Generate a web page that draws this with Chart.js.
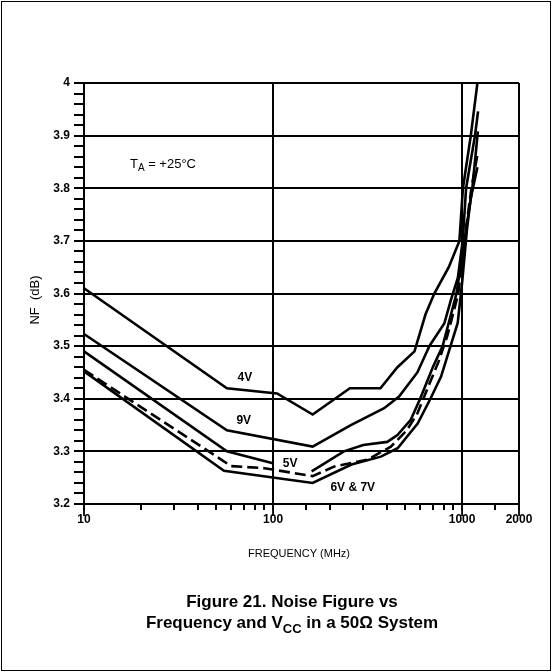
<!DOCTYPE html>
<html>
<head>
<meta charset="utf-8">
<script src="https://cdn.jsdelivr.net/npm/chart.js@4"></script>
<style>
  html, body { margin: 0; padding: 0; background: #fff; }
  #wrap { width: 552px; height: 672px; }
</style>
</head>
<body>
<div id="wrap"><canvas id="nfChart" width="552" height="672"></canvas></div>
<script>
// values (MHz, dB)
const F_4V  = [10, 57, 105, 162, 255, 370, 455, 560, 640, 713, 850, 968, 1010, 1112, 1205];
const NF_4V = [3.61, 3.42, 3.41, 3.37, 3.42, 3.42, 3.46, 3.49, 3.56, 3.60, 3.65, 3.70, 3.80, 3.90, 4.00];

const F_9V  = [10, 57, 162, 258, 387, 464, 580, 671, 805, 873, 950, 1007, 1050, 1170, 1215];
const NF_9V = [3.523, 3.34, 3.309, 3.35, 3.382, 3.404, 3.45, 3.50, 3.543, 3.588, 3.63, 3.70, 3.80, 3.90, 3.946];

const F_5V  = [10, 57, 101, 130, 160, 237, 300, 402, 455, 535, 600, 700, 789, 934, 1028, 1133, 1212];
const NF_5V = [3.49, 3.30, 3.277, null, 3.262, 3.30, 3.312, 3.318, 3.331, 3.36, 3.40, 3.46, 3.50, 3.60, 3.70, 3.80, 3.908];

const F_7V  = [10, 60, 90, 162, 210, 315, 420, 510, 580, 640, 750, 836, 955, 1028, 1120, 1208];
const NF_7V = [3.455, 3.272, 3.268, 3.253, 3.271, 3.284, 3.309, 3.34, 3.372, 3.41, 3.47, 3.52, 3.60, 3.70, 3.80, 3.866];

const F_6V  = [10, 55, 162, 260, 372, 456, 582, 680, 774, 948, 1000, 1060, 1110, 1205];
const NF_6V = [3.452, 3.263, 3.24, 3.275, 3.29, 3.306, 3.353, 3.40, 3.442, 3.544, 3.62, 3.72, 3.78, 3.84];

const X_LABELS = [10, 100, 1000, 2000];
const CURVE_LABELS = ['4V', '9V', '5V', '6V & 7V'];

const FONT = '"Liberation Sans", Arial, Helvetica, sans-serif';

function toPoints(xs, ys) {
    return xs.map((x, i) => ({ x, y: ys[i] }));
}

function curve(label, xs, ys, dash) {
    return {
        label,
        data: toPoints(xs, ys),
        borderColor: '#000',
        borderWidth: 2.6,
        borderDash: dash || [],
        pointRadius: 0,
        tension: 0,
        fill: false
    };
}

const isMajorY = v => Math.abs(v * 10 - Math.round(v * 10)) < 1e-6;
const isMajorX = v => X_LABELS.includes(Math.round(v));

// draws text made of normal / subscript parts
function drawParts(ctx, parts, x, y, size, weight, align) {
    const fontFor = p => `${weight} ${p.sub ? Math.round(size * 0.78) : size}px ${FONT}`;
    let total = 0;
    parts.forEach(p => { ctx.font = fontFor(p); total += ctx.measureText(p.t).width; });
    let cx = align === 'center' ? x - total / 2 : x;
    ctx.textAlign = 'left';
    ctx.textBaseline = 'alphabetic';
    parts.forEach(p => {
        ctx.font = fontFor(p);
        ctx.fillText(p.t, cx, p.sub ? y + size * 0.28 : y);
        cx += ctx.measureText(p.t).width;
    });
}

const textPlugin = {
    id: 'figureText',
    afterDraw(chart) {
        const { ctx, scales: { x, y } } = chart;
        ctx.save();
        ctx.fillStyle = '#000';

        // frame round the whole figure
        ctx.strokeStyle = '#000';
        ctx.lineWidth = 1;
        ctx.strokeRect(1.5, 1.5, chart.width - 3, chart.height - 3);

        // longer ticks under the labelled decades
        ctx.lineWidth = 1.8;
        X_LABELS.forEach(v => {
            const px = x.getPixelForValue(v);
            ctx.beginPath();
            ctx.moveTo(px, y.bottom);
            ctx.lineTo(px, y.bottom + 12);
            ctx.stroke();
        });

        // curve labels
        const spots = [[71, 3.44], [70, 3.358], [123, 3.277], [264, 3.231]];
        ctx.font = `bold 12px ${FONT}`;
        ctx.textAlign = 'center';
        ctx.textBaseline = 'middle';
        CURVE_LABELS.forEach((t, i) => {
            ctx.fillText(t, x.getPixelForValue(spots[i][0]), y.getPixelForValue(spots[i][1]));
        });

        // ambient temperature note
        drawParts(ctx, [{ t: 'T' }, { t: 'A', sub: true }, { t: ' = +25°C' }],
            x.getPixelForValue(17.5), y.getPixelForValue(3.839), 13, 'normal', 'left');

        // axis titles
        ctx.font = `normal 11px ${FONT}`;
        ctx.textAlign = 'center';
        ctx.textBaseline = 'middle';
        ctx.fillText('FREQUENCY (MHz)', 299, 554);
        ctx.save();
        ctx.translate(35, 300);
        ctx.rotate(-Math.PI / 2);
        ctx.font = `normal 13px ${FONT}`;
        ctx.fillText('NF  (dB)', 0, 0);
        ctx.restore();

        // caption
        ctx.font = `bold 17px ${FONT}`;
        ctx.textAlign = 'center';
        ctx.textBaseline = 'alphabetic';
        ctx.fillText('Figure 21. Noise Figure vs', 292, 607);
        drawParts(ctx, [{ t: 'Frequency and V' }, { t: 'CC', sub: true }, { t: ' in a 50Ω System' }],
            292, 628, 17, 'bold', 'center');

        ctx.restore();
    }
};

new Chart(document.getElementById('nfChart'), {
    type: 'line',
    data: {
        datasets: [
            curve('4V', F_4V, NF_4V),
            curve('9V', F_9V, NF_9V),
            curve('5V', F_5V, NF_5V),
            curve('7V', F_7V, NF_7V, [11, 5]),
            curve('6V', F_6V, NF_6V)
        ]
    },
    options: {
        responsive: false,
        animation: false,
        spanGaps: false,
        layout: { padding: { top: 83, right: 33, left: 0, bottom: 0 } },
        plugins: { legend: { display: false }, tooltip: { enabled: false } },
        scales: {
            x: {
                type: 'logarithmic',
                min: 10,
                max: 2000,
                afterFit: s => { s.height = 168; },
                border: { display: true, color: '#000', width: 2 },
                grid: {
                    color: c => isMajorX(c.tick.value) ? '#000' : 'rgba(0,0,0,0)',
                    tickColor: '#000',
                    lineWidth: 2,
                    tickLength: 6
                },
                ticks: {
                    autoSkip: false,
                    maxRotation: 0,
                    padding: 2,
                    color: '#000',
                    font: { family: FONT, size: 12, weight: 'bold' },
                    callback: v => isMajorX(v) ? String(Math.round(v)) : ''
                }
            },
            y: {
                min: 3.2,
                max: 4,
                afterFit: s => { s.width = 84; },
                border: { display: true, color: '#000', width: 2 },
                grid: {
                    color: c => isMajorY(c.tick.value) ? '#000' : 'rgba(0,0,0,0)',
                    tickColor: '#000',
                    lineWidth: 2,
                    tickLength: 10
                },
                ticks: {
                    stepSize: 0.02,
                    autoSkip: false,
                    maxTicksLimit: 60,
                    padding: 4,
                    color: '#000',
                    font: { family: FONT, size: 12, weight: 'bold' },
                    callback: v => isMajorY(v) ? String(Math.round(v * 10) / 10) : ''
                }
            }
        }
    },
    plugins: [textPlugin]
});
</script>
</body>
</html>
